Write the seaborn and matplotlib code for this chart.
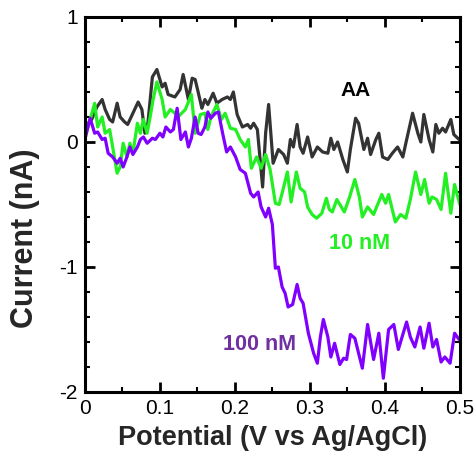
import matplotlib
matplotlib.use("Agg")
import matplotlib.pyplot as plt
from matplotlib.ticker import MultipleLocator, FuncFormatter
import numpy as np
import pandas as pd
import seaborn as sns

# Differential pulse voltammograms: potential (V vs Ag/AgCl) and current (nA)
aa_v = [0.000, 0.009, 0.016, 0.023, 0.027, 0.033, 0.037, 0.043, 0.047, 0.053,
        0.057, 0.064, 0.071, 0.076, 0.080, 0.084, 0.090, 0.096, 0.103, 0.107,
        0.111, 0.120, 0.127, 0.131, 0.138, 0.143, 0.147, 0.151, 0.156, 0.160,
        0.164, 0.171, 0.176, 0.183, 0.190, 0.194, 0.198, 0.203, 0.210, 0.217,
        0.221, 0.225, 0.230, 0.237, 0.241, 0.245, 0.251, 0.258, 0.265, 0.270,
        0.274, 0.278, 0.283, 0.287, 0.291, 0.297, 0.303, 0.310, 0.317, 0.324,
        0.328, 0.332, 0.337, 0.344, 0.350, 0.354, 0.361, 0.365, 0.372, 0.377,
        0.381, 0.388, 0.392, 0.397, 0.404, 0.410, 0.417, 0.424, 0.428, 0.437,
        0.444, 0.448, 0.452, 0.459, 0.464, 0.468, 0.472, 0.477, 0.481, 0.488,
        0.492, 0.499]
aa_i = [0.12, 0.18, 0.28, 0.34, 0.26, 0.18, 0.16, 0.31, 0.20, 0.16,
        0.14, 0.23, 0.32, 0.26, 0.07, 0.15, 0.52, 0.58, 0.44, 0.47,
        0.38, 0.36, 0.42, 0.54, 0.34, 0.51, 0.50, 0.40, 0.27, 0.34,
        0.30, 0.39, 0.31, 0.34, 0.36, 0.34, 0.40, 0.22, 0.12, 0.14,
        0.11, 0.15, 0.10, -0.36, 0.07, 0.30, -0.17, -0.06, -0.10, -0.17,
        0.02, -0.04, 0.14, -0.04, -0.09, 0.04, -0.12, -0.04, -0.08, -0.09,
        0.03, -0.06, 0.00, -0.14, -0.24, -0.06, 0.19, 0.15, -0.06, 0.03,
        -0.10, 0.02, 0.07, -0.12, -0.14, -0.09, -0.04, -0.12, -0.01, 0.23,
        0.07, 0.00, 0.22, 0.02, -0.08, 0.14, 0.07, 0.11, 0.08, 0.18,
        0.06, 0.02]

nm10_v = [0.000, 0.007, 0.013, 0.017, 0.023, 0.027, 0.033, 0.037, 0.043, 0.047,
          0.051, 0.056, 0.060, 0.064, 0.070, 0.074, 0.078, 0.083, 0.087, 0.091,
          0.096, 0.103, 0.107, 0.114, 0.120, 0.124, 0.134, 0.142, 0.147, 0.154,
          0.160, 0.164, 0.168, 0.176, 0.182, 0.187, 0.194, 0.201, 0.207, 0.214,
          0.218, 0.222, 0.229, 0.235, 0.241, 0.247, 0.254, 0.259, 0.263, 0.270,
          0.275, 0.282, 0.287, 0.293, 0.297, 0.303, 0.309, 0.316, 0.322, 0.326,
          0.330, 0.336, 0.340, 0.346, 0.353, 0.360, 0.366, 0.370, 0.377, 0.385,
          0.389, 0.396, 0.401, 0.405, 0.414, 0.421, 0.428, 0.434, 0.441, 0.448,
          0.453, 0.459, 0.463, 0.469, 0.475, 0.481, 0.488, 0.493, 0.500]
nm10_i = [0.04, 0.18, 0.31, 0.12, 0.20, 0.07, 0.10, -0.04, -0.25, -0.20,
          -0.01, -0.12, -0.01, -0.09, 0.15, 0.07, 0.18, 0.07, 0.20, 0.34,
          0.48, 0.34, 0.20, 0.26, 0.23, 0.20, 0.26, 0.38, 0.07, 0.22,
          0.23, 0.10, 0.20, 0.30, 0.18, 0.23, 0.11, 0.10, 0.02, -0.04,
          0.02, -0.21, -0.12, -0.21, -0.10, -0.22, -0.49, -0.50, -0.41, -0.24,
          -0.48, -0.24, -0.37, -0.40, -0.52, -0.58, -0.61, -0.57, -0.45, -0.54,
          -0.56, -0.46, -0.50, -0.56, -0.44, -0.30, -0.44, -0.60, -0.52, -0.58,
          -0.52, -0.42, -0.49, -0.42, -0.64, -0.58, -0.61, -0.46, -0.24, -0.42,
          -0.30, -0.49, -0.44, -0.46, -0.54, -0.25, -0.57, -0.34, -0.50]

nm100_v = [0.000, 0.007, 0.013, 0.017, 0.023, 0.027, 0.031, 0.037, 0.043, 0.047,
           0.051, 0.056, 0.060, 0.064, 0.070, 0.074, 0.078, 0.083, 0.090, 0.094,
           0.100, 0.104, 0.108, 0.114, 0.118, 0.123, 0.128, 0.134, 0.138, 0.142,
           0.147, 0.151, 0.155, 0.160, 0.164, 0.168, 0.174, 0.178, 0.184, 0.189,
           0.194, 0.201, 0.207, 0.214, 0.221, 0.225, 0.231, 0.235, 0.241, 0.245,
           0.250, 0.254, 0.258, 0.263, 0.267, 0.271, 0.277, 0.283, 0.287, 0.291,
           0.298, 0.305, 0.310, 0.314, 0.318, 0.324, 0.328, 0.333, 0.340, 0.345,
           0.349, 0.354, 0.360, 0.370, 0.377, 0.385, 0.392, 0.398, 0.405, 0.412,
           0.418, 0.429, 0.434, 0.440, 0.447, 0.452, 0.459, 0.464, 0.469, 0.475,
           0.480, 0.487, 0.493, 0.499]
nm100_i = [0.02, 0.19, 0.07, 0.08, 0.02, 0.03, -0.09, -0.12, -0.17, -0.13,
           -0.20, -0.12, -0.04, -0.10, -0.04, 0.02, 0.04, -0.01, 0.03, 0.02,
           0.07, 0.04, 0.12, 0.08, 0.10, 0.27, 0.02, 0.08, -0.04, 0.03,
           0.20, 0.07, 0.06, 0.12, 0.24, 0.19, 0.23, 0.24, 0.06, -0.08,
           -0.04, -0.12, -0.22, -0.25, -0.41, -0.44, -0.40, -0.52, -0.60, -0.53,
           -0.66, -1.01, -1.00, -1.16, -1.21, -1.32, -1.30, -1.14, -1.25, -1.29,
           -1.53, -1.69, -1.77, -1.56, -1.42, -1.56, -1.72, -1.61, -1.78, -1.73,
           -1.74, -1.54, -1.57, -1.81, -1.46, -1.74, -1.53, -1.89, -1.50, -1.46,
           -1.66, -1.44, -1.56, -1.64, -1.48, -1.65, -1.45, -1.64, -1.58, -1.76,
           -1.72, -1.77, -1.53, -1.58]

series = [
    ("AA", aa_v, aa_i, "#333333"),
    ("10 nM", nm10_v, nm10_i, "#22f022"),
    ("100 nM", nm100_v, nm100_i, "#8000ff"),
]

sns.set_theme(style="ticks")
plt.rcParams["font.family"] = ["Liberation Sans", "DejaVu Sans"]
plt.rcParams["axes.unicode_minus"] = False

fig = plt.figure(figsize=(4.77, 4.53), dpi=100)
ax = fig.add_axes([0.178, 0.1347, 0.786, 0.8278])

for name, v, i, color in series:
    df = pd.DataFrame({"Potential": v, "Current": i})
    sns.lineplot(data=df, x="Potential", y="Current", ax=ax, sort=False,
                 color=color, linewidth=2.3, estimator=None,
                 solid_joinstyle="round", solid_capstyle="round")

ax.set_xlim(0, 0.5)
ax.set_ylim(-2, 1)
ax.xaxis.set_major_locator(MultipleLocator(0.1))
ax.xaxis.set_minor_locator(MultipleLocator(0.05))
ax.yaxis.set_major_locator(MultipleLocator(1))
ax.yaxis.set_minor_locator(MultipleLocator(0.2))
ax.xaxis.set_major_formatter(FuncFormatter(lambda x, p: "0" if abs(x) < 1e-9 else f"{x:.1f}"))
ax.yaxis.set_major_formatter(FuncFormatter(lambda y, p: f"{y:.0f}"))

for s in ax.spines.values():
    s.set_linewidth(2.2)
    s.set_color("black")
ax.tick_params(which="both", direction="in", top=True, right=True,
               color="black", width=2)
ax.tick_params(which="major", length=7, labelsize=15, pad=5, labelcolor="black")
ax.tick_params(which="minor", length=3.6, width=1.5)

ax.set_xlabel("Potential (V vs Ag/AgCl)", fontsize=19.5, fontweight="bold")
ax.xaxis.set_label_coords(0.5, -0.088)
ax.set_ylabel("Current (nA)", fontsize=22, fontweight="bold")
ax.yaxis.set_label_coords(-0.12, 0.41)

ax.text(0.361, 0.41, "AA", color="black", fontsize=15, fontweight="bold",
        ha="center", va="center")
ax.text(0.366, -0.81, "10 nM", color="#22f022", fontsize=15.5, fontweight="bold",
        ha="center", va="center")
ax.text(0.233, -1.62, "100 nM", color="#7030a0", fontsize=15.5, fontweight="bold",
        ha="center", va="center")

fig.savefig("out.png", dpi=100, facecolor="white")
